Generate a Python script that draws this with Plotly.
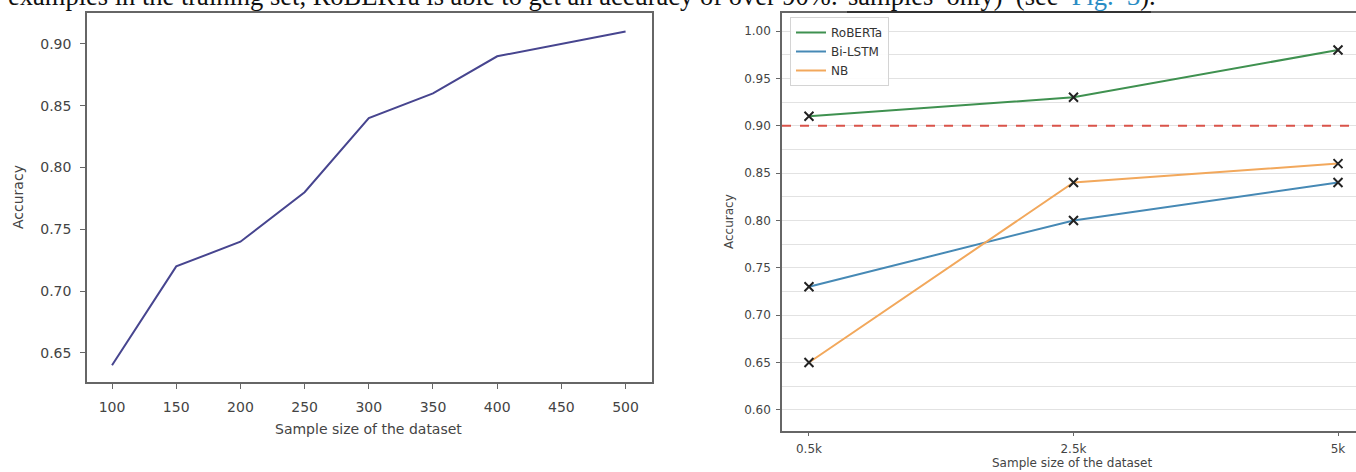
import plotly.graph_objects as go

W, H = 1356, 472

# ---- data ----
sizes_left = [100, 150, 200, 250, 300, 350, 400, 450, 500]
acc_left = [0.64, 0.72, 0.74, 0.78, 0.84, 0.86, 0.89, 0.90, 0.91]

sample_pos = [0, 1, 2]
sample_labels = ["0.5k", "2.5k", "5k"]
roberta = [0.91, 0.93, 0.98]
bilstm = [0.73, 0.80, 0.84]
nb = [0.65, 0.84, 0.86]
threshold = 0.90

NB = "\u00a0"
caption_main = "examples in the training set, RoBERTa is able to get an accuracy of over 90%."
caption_tail = (f"samples{NB} only){NB} (see{NB} "
                f"<span style='color:#2a8cc4'>Fig.{NB} 3</span>).")

FONT = "DejaVu Sans"
TICKC = "#444444"
AXC = "#666666"


def px_x(p):
    return p / W


def px_y(p):
    return 1 - p / H


fig = go.Figure()

# left chart
fig.add_trace(go.Scatter(x=sizes_left, y=acc_left, mode="lines",
                         line=dict(color="#47458f", width=2),
                         xaxis="x", yaxis="y", showlegend=False))

# right chart
series = [("RoBERTa", roberta, "#3f9150"),
          ("Bi-LSTM", bilstm, "#4689b5"),
          ("NB", nb, "#f2a85c")]
for name, vals, col in series:
    fig.add_trace(go.Scatter(x=sample_pos, y=vals, mode="lines", name=name,
                             line=dict(color=col, width=2),
                             xaxis="x2", yaxis="y2"))
for name, vals, col in series:
    fig.add_trace(go.Scatter(x=sample_pos, y=vals, mode="markers",
                             marker=dict(symbol="x-thin", size=9,
                                         line=dict(color="#222222", width=2)),
                             xaxis="x2", yaxis="y2", showlegend=False))

fig.add_shape(type="line", xref="x2 domain", x0=0, x1=1, yref="y2",
              y0=threshold, y1=threshold,
              line=dict(color="#d9534a", width=2, dash="dash"))

common = dict(ticks="outside", tickcolor=AXC, linecolor=AXC, zeroline=False,
              showline=True)

fig.update_layout(
    width=W, height=H,
    margin=dict(l=0, r=0, t=0, b=0),
    paper_bgcolor="white", plot_bgcolor="white",
    font=dict(family=FONT, color=TICKC),
    xaxis=dict(domain=[px_x(87), px_x(651.5)], range=[80.5, 520.2], anchor="y",
               tickvals=sizes_left, ticklen=5, linewidth=1.5, mirror=True,
               showgrid=False, tickfont=dict(size=14, color=TICKC),
               ticklabelstandoff=6, **common),
    yaxis=dict(domain=[px_y(382), px_y(13)], range=[0.6265, 0.925], anchor="x",
               tick0=0.65, dtick=0.05, tickformat=".2f", ticklen=5,
               linewidth=1.5, mirror=True, showgrid=False,
               tickfont=dict(size=14, color=TICKC), ticklabelstandoff=6,
               **common),
    xaxis2=dict(domain=[px_x(782), 1.0], range=[-0.102, 2.068], anchor="y2",
                tickvals=sample_pos, ticktext=sample_labels, ticklen=4,
                linewidth=1.5, mirror=True, showgrid=False,
                tickfont=dict(size=12, color=TICKC), ticklabelstandoff=2,
                **common),
    yaxis2=dict(domain=[px_y(430.7), px_y(13)], range=[0.578, 1.019],
                anchor="x2", tick0=0.6, dtick=0.05, tickformat=".2f",
                ticklen=4, linewidth=1.5, showgrid=True, gridcolor="#e2e2e2",
                gridwidth=1,
                minor=dict(dtick=0.025, tick0=0.6, showgrid=True,
                           gridcolor="#e2e2e2", gridwidth=1, ticks=""),
                tickfont=dict(size=12, color=TICKC), ticklabelstandoff=3,
                **common),
    legend=dict(x=px_x(790), y=px_y(17), xanchor="left", yanchor="top",
                bgcolor="rgba(255,255,255,0.9)", bordercolor="#d4d4d4",
                borderwidth=1, font=dict(size=12, color="#333333"),
                itemwidth=30),
)

ann = [
    dict(text="Accuracy", x=px_x(18.5), y=px_y(197.5), textangle=-90,
         font=dict(size=14, color=TICKC)),
    dict(text="Sample size of the dataset", x=px_x(369), y=px_y(429),
         font=dict(size=14, color=TICKC)),
    dict(text="Accuracy", x=px_x(729), y=px_y(222), textangle=-90,
         font=dict(size=12, color=TICKC)),
    dict(text="Sample size of the dataset", x=px_x(1072), y=px_y(463),
         font=dict(size=12, color=TICKC)),
]
for a in ann:
    fig.add_annotation(xref="paper", yref="paper", showarrow=False,
                       xanchor="center", yanchor="middle", **a)

cap_font = dict(family="Liberation Serif", size=26.5, color="#111111")
fig.add_annotation(xref="paper", yref="paper", showarrow=False,
                   x=px_x(6), y=px_y(13), xanchor="left", yanchor="bottom",
                   text=caption_main, font=cap_font)
fig.add_annotation(xref="paper", yref="paper", showarrow=False,
                   x=px_x(846), y=px_y(13), xanchor="left", yanchor="bottom",
                   text=caption_tail, font=cap_font)
fig.add_shape(type="line", xref="paper", yref="paper",
              x0=px_x(847), x1=px_x(1151), y0=px_y(12), y1=px_y(12),
              line=dict(color="#333333", width=2))

fig.write_html(
    "out.html",
    config={"displayModeBar": False},
    post_script="document.body.style.margin='0';"
                "document.body.style.overflow='hidden';",
)
